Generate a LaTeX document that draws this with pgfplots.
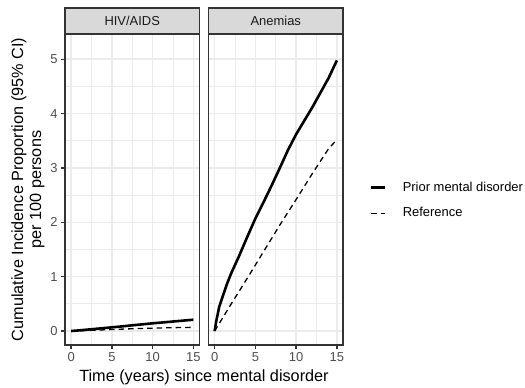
\documentclass[border=0pt]{standalone}
\usepackage{pgfplots}
\pgfplotsset{compat=1.18}
\usepackage{fontspec}
\setmainfont{Liberation Sans}
\definecolor{gridc}{HTML}{EBEBEB}
\definecolor{g20}{HTML}{333333}
\definecolor{g30}{HTML}{4D4D4D}
\definecolor{g85}{HTML}{D9D9D9}
\definecolor{g10}{HTML}{1A1A1A}
\pgfplotsset{panel/.style={
  scale only axis, width=134.5bp, height=311bp,
  xmin=-0.75, xmax=15.75, ymin=-0.257, ymax=5.465,
  xtick={0,5,10,15}, minor xtick={2.5,7.5,12.5},
  ytick={0,1,2,3,4,5}, minor ytick={0.5,1.5,2.5,3.5,4.5},
  grid=both,
  major grid style={gridc, line width=1.6bp},
  minor grid style={gridc, line width=0.8bp},
  axis line style={g20, line width=1.4bp},
  tick style={g20, line width=1.4bp},
  major tick length=4bp, minor tick length=0pt,
  tick align=outside, xtick pos=bottom, ytick pos=left,
  ticklabel style={font=\fontsize{13}{15}\selectfont, text=g30},
  /pgf/number format/assume math mode=true,
  clip=false,
  legend image code/.code={\draw[#1] (0bp,0bp) -- (14bp,0bp);},
}}
\begin{document}
\begin{tikzpicture}
\useasboundingbox (0,0) rectangle (525bp,388bp);
% Panel 1: HIV/AIDS
\begin{axis}[panel, at={(65bp,43bp)}, anchor=south west]
\addplot[black, line width=2.6bp, line join=round] coordinates {
(0,0) (1,0.012) (2,0.026) (3,0.04) (4,0.054) (5,0.068) (6,0.082) (7.5,0.105) (9,0.127) (10,0.142) (11,0.155) (12.5,0.175) (14,0.195) (15,0.208)};
\addplot[black, line width=1.3bp, dash pattern=on 5.5bp off 4bp] coordinates {
(0,0) (2,0.01) (5,0.028) (7.5,0.042) (10,0.053) (12.5,0.062) (15,0.068)};
\draw[fill=g85, draw=g20, line width=1.4bp] (rel axis cs:0,1) rectangle (rel axis cs:1,1.0836);
\node[font=\fontsize{13}{15}\selectfont, text=g10] at (rel axis cs:0.5,1.0418) {HIV/AIDS};
\end{axis}
% Panel 2: Anemias
\begin{axis}[panel, at={(208.5bp,43bp)}, anchor=south west,
  yticklabels={}, ytick style={draw=none},
  legend style={at={(1.2007,0.4646)}, anchor=west, draw=none, fill=none, inner sep=0pt,
    font=\fontsize{13}{15}\selectfont, row sep=12.6bp, column sep=16bp,
    nodes={inner sep=0pt, text height=10bp, text depth=3bp}},
  legend cell align=left]
\addplot[black, line width=2.6bp, line join=round] coordinates {
(0,0) (0.2,0.18) (0.57,0.45) (1,0.64) (1.5,0.86) (2,1.05) (3,1.38) (4,1.73) (5,2.07) (6,2.37) (7,2.68) (8,3.0) (9,3.33) (10,3.62) (11,3.87) (12,4.12) (13,4.39) (14,4.66) (15,4.98)};
\addlegendentry{Prior mental disorder}
\addplot[black, line width=1.3bp, dash pattern=on 5.5bp off 4bp] coordinates {
(0,0) (2,0.49) (4,0.97) (6,1.46) (8,1.95) (10,2.42) (12,2.9) (14,3.36) (15,3.52)};
\addlegendentry{Reference}
\draw[fill=g85, draw=g20, line width=1.4bp] (rel axis cs:0,1) rectangle (rel axis cs:1,1.0836);
\node[font=\fontsize{13}{15}\selectfont, text=g10] at (rel axis cs:0.5,1.0418) {Anemias};
\end{axis}
\node[rotate=90, align=center, font=\fontsize{16.3}{18}\selectfont] at (28bp,198.5bp)
  {Cumulative Incidence Proportion (95\% CI)\\per 100 persons};
\node[font=\fontsize{16.3}{18}\selectfont] at (204bp,11bp) {Time (years) since mental disorder};
\end{tikzpicture}
\end{document}
